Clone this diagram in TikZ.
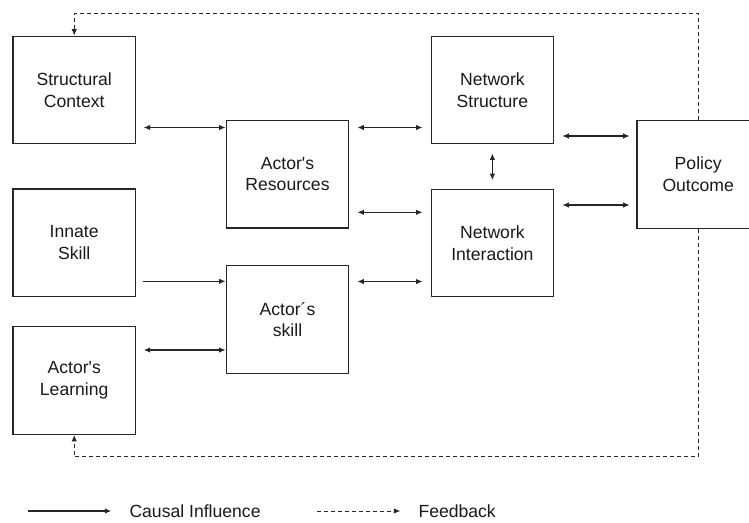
\documentclass[tikz,border=0pt]{standalone}
\usepackage{fontspec}
\setmainfont{Liberation Sans}[Ligatures=TeXOff]
\usetikzlibrary{arrows.meta}
\tikzset{
  box/.style={draw=black!85, line width=1.3pt, minimum width=122.5pt, minimum height=107.5pt,
    inner sep=0pt, align=center, font=\fontsize{17.6}{21.5}\selectfont, text=black!90},
  tip/.style={Latex[length=6.5pt,width=5.5pt]},
  arr/.style={line width=1.1pt, draw=black!85, -{Latex[length=6.5pt,width=5.5pt]}},
  barr/.style={line width=1.1pt, draw=black!85, {Latex[length=6.5pt,width=5.5pt]}-{Latex[length=6.5pt,width=5.5pt]}},
  fb/.style={line width=1pt, draw=black!85, dash pattern=on 4pt off 3pt, -{Latex[length=6.5pt,width=5.5pt]}},
  leg/.style={inner sep=0pt, anchor=west, font=\fontsize{17.6}{21.5}\selectfont, text=black!90}
}
\begin{document}
\begin{tikzpicture}[x=1pt,y=-1pt]
\useasboundingbox (0,0) rectangle (749,522);
\node[box] (sc) at (74.2,90) {Structural\\Context};
\node[box] (is) at (74.2,242.7) {Innate\\Skill};
\node[box] (al) at (74.2,380.5) {Actor's\\Learning};
\node[box] (ar) at (287.5,174.2) {Actor's\\Resources};
\node[box] (as) at (287.5,319.4) {Actor´s\\skill};
\node[box] (ns) at (492.4,90) {Network\\Structure};
\node[box] (ni) at (492.4,243) {Network\\Interaction};
\node[box] (po) at (698.2,174.4) {Policy\\Outcome};

% connectors
\draw[barr] ([xshift=7.6pt]sc.east |- 0,127.5) -- (ar.west |- 0,127.5);
\draw[barr] ([xshift=8pt]ar.east |- 0,127.5) -- ([xshift=-8pt]ns.west |- 0,127.5);
\draw[barr] ([xshift=8pt]ar.east |- 0,212.3) -- ([xshift=-8pt]ni.west |- 0,212.3);
\draw[barr] ([xshift=8pt]ns.east |- 0,136) -- ([xshift=-6.7pt]po.west |- 0,136);
\draw[barr] ([xshift=8pt]ni.east |- 0,205) -- ([xshift=-6.7pt]po.west |- 0,205);
\draw[barr] ([yshift=-9pt]ns.south) -- ([yshift=8.5pt]ni.north);
\draw[arr] ([xshift=7pt]is.east |- 0,281.3) -- (as.west |- 0,281.3);
\draw[barr] ([xshift=7.6pt]al.east |- 0,350) -- (as.west |- 0,350);
\draw[barr] ([xshift=8pt]as.east |- 0,281.5) -- ([xshift=-8pt]ni.west |- 0,281.5);

% feedback
\draw[fb] (po.north) -- (po.north |- 0,13.3) -| (sc.north);
\draw[fb] (po.south) -- (po.south |- 0,456.7) -| (al.south);

% legend
\node[leg] (causal) at (129.3,511) {Causal Influence};
\node[leg] (feed) at (418.3,511) {Feedback};
\coordinate (c0) at (28.3,511);
\coordinate (f0) at (316.7,511);
\draw[arr] (c0) -- ([xshift=-18pt]causal.west);
\draw[fb] (f0) -- ([xshift=-18pt]feed.west);
\end{tikzpicture}
\end{document}
